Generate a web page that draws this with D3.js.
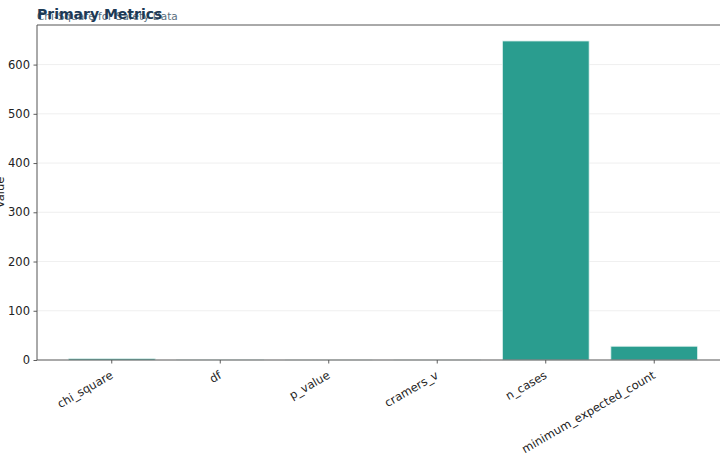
<!DOCTYPE html>
<html><head><meta charset="utf-8">
<script src="https://cdn.jsdelivr.net/npm/d3@7"></script>
<style>body{margin:0;background:#fff;font-family:"DejaVu Sans",sans-serif;}</style>
</head><body><svg id="c" width="720" height="460"></svg>
<script>
const categories = ["chi_square","df","p_value","cramers_v","n_cases","minimum_expected_count"];
const values = [3.2, 1, 0.07, 0.07, 648, 28];
const yTicks = [0,100,200,300,400,500,600];
const titleText = "Primary Metrics";
const subtitleText = "Chi-Square for Safety Data";
const yLabel = "Value";

const svg = d3.select("#c");
const L = 37, T = 25, B = 360, R = 729;
const x = d3.scaleBand().domain(categories).range([L, R]).paddingInner(0.2).paddingOuter(0.289);
const y = d3.scaleLinear().domain([0, 680.4]).range([B, T]);

// grid
svg.append("g").selectAll("line").data(yTicks.filter(d=>d>0)).join("line")
  .attr("x1", L).attr("x2", 720).attr("y1", d=>y(d)).attr("y2", d=>y(d))
  .attr("stroke", "#ebebeb").attr("stroke-width", 0.8);

// bars
svg.append("g").selectAll("rect").data(categories).join("rect")
  .attr("x", d=>x(d)).attr("width", x.bandwidth())
  .attr("y", (d,i)=>y(values[i])).attr("height", (d,i)=>B - y(values[i]))
  .attr("fill", "#2a9d8f").attr("stroke", "#e8f5f3").attr("stroke-width", 0.8);

// axes
const ya = svg.append("g").attr("transform", `translate(${L},0)`)
  .call(d3.axisLeft(y).tickValues(yTicks).tickSize(3.5).tickPadding(3.5));
const xa = svg.append("g").attr("transform", `translate(0,${B})`)
  .call(d3.axisBottom(x).tickSize(3.5).tickPadding(3.5));
[ya, xa].forEach(a=>{
  a.select(".domain").remove();
  a.selectAll(".tick line").attr("stroke", "#333").attr("stroke-width", 0.8);
  a.selectAll("text").attr("fill", "#222").style("font-size", "11.5px").style("font-family", "DejaVu Sans");
});
xa.selectAll(".tick text")
  .attr("text-anchor", "end").attr("dy", "0.35em")
  .attr("transform", "translate(0,14) rotate(-30)").attr("y", 0).attr("x", 0);

// spines
svg.append("line").attr("x1", L).attr("x2", L).attr("y1", T).attr("y2", B).attr("stroke", "#555").attr("stroke-width", 1);
svg.append("line").attr("x1", L).attr("x2", 720).attr("y1", B).attr("y2", B).attr("stroke", "#555").attr("stroke-width", 1);
svg.append("line").attr("x1", L).attr("x2", 720).attr("y1", T).attr("y2", T).attr("stroke", "#555").attr("stroke-width", 1);

// y label
svg.append("text").attr("transform", `translate(4,${(T+B)/2}) rotate(-90)`)
  .attr("text-anchor", "middle").style("font-size", "11.5px").attr("fill", "#222").text(yLabel);

// subtitle and title
svg.append("text").attr("x", L).attr("y", 20).style("font-size", "10.5px").attr("fill", "#5a7080").text(subtitleText);
svg.append("text").attr("x", L).attr("y", 19).style("font-size", "14px").style("font-weight", "bold").attr("fill", "#1d3a56").text(titleText);
</script></body></html>
